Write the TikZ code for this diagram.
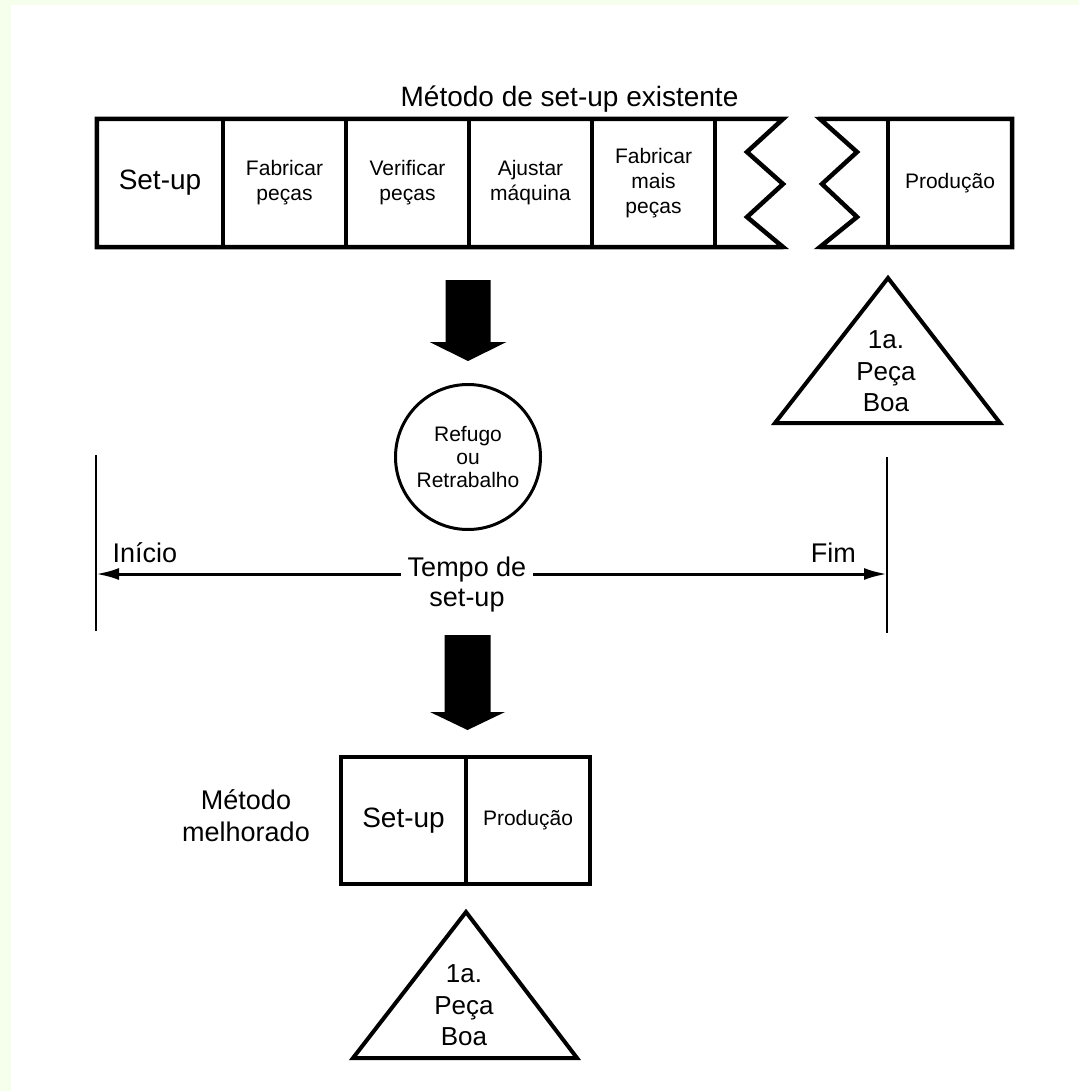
\documentclass[tikz,border=0pt]{standalone}
\usepackage{fontspec}
\setmainfont{Liberation Sans}
\usetikzlibrary{arrows.meta}
\definecolor{edgegreen}{RGB}{245,255,235}

\begin{document}
\begin{tikzpicture}[x=1pt,y=-1pt,
  frame/.style={line width=4.5pt, line join=miter},
  divider/.style={line width=3.5pt},
  cell/.style={minimum width=123pt, minimum height=128pt, inner sep=0pt,
    align=center, font=\fontsize{21}{25}\selectfont},
  bigtxt/.style={font=\fontsize{27}{32}\selectfont, inner sep=0pt},
  tri/.style={line width=4pt, line join=miter},
  tritxt/.style={align=center, inner sep=0pt, font=\fontsize{26}{31.5}\selectfont},
  blockarrow/.style={fill=black},
  timeline/.style={line width=3pt, -{Latex[length=23pt,width=12pt]}},
  marker/.style={line width=2.5pt}
]
\useasboundingbox (0,0) rectangle (1079,1091);
% page with a thin tinted margin on the left and top
\fill[edgegreen] (0,0) rectangle (1079,1091);
\fill[white] (11,5) rectangle (1079,1091);

% ---- existing set-up method ----
\node[bigtxt, font=\fontsize{28}{32}\selectfont, anchor=base] (title) at (569.5,107) {Método de set-up existente};

\node[cell, minimum width=126pt, font=\fontsize{28}{32}\selectfont] (s1) at (160,183) {Set-up};
\node[cell] (s2) at (284.5,183) {Fabricar\\peças};
\node[cell] (s3) at (407.5,183) {Verificar\\peças};
\node[cell] (s4) at (530.5,183) {Ajustar\\máquina};
\node[cell] (s5) at (653.5,183) {Fabricar\\mais\\peças};
\node[cell, minimum width=124pt] (prod) at (950,183) {Produção};

% left strip, broken off with a zigzag
\draw[frame] (s1.north west) -- (783,119) -- (747,152) -- (783,184) -- (747,217)
  -- (783,247) -- (s1.south west) -- cycle;
\foreach \c in {s1,s2,s3,s4,s5}
  \draw[divider] (\c.north east) -- (\c.south east);

% right strip, resumed after the break
\draw[frame] (prod.north east) -- (820,119) -- (857,152) -- (822,184) -- (857,217)
  -- (820,247) -- (prod.south east) -- cycle;
\draw[divider] (prod.north west) -- (prod.south west);

% first good part
\draw[tri] (888,278) -- (1000,423) -- (775,423) -- cycle;
\node[tritxt] (t1) at (886,371.5) {1a.\\Peça\\Boa};

% down arrow to scrap / rework
\fill[blockarrow] (445.5,280) -- (490.5,280) -- (490.5,342) -- (506.5,342)
  -- (468,361) -- (429.5,342) -- (445.5,342) -- cycle;

\node[circle, draw, line width=3pt, minimum size=145pt, inner sep=0pt, align=center,
  font=\fontsize{21}{23.5}\selectfont] (refugo) at (468,457) {Refugo\\ou\\Retrabalho};

% ---- set-up time span ----
\coordinate (iniTop) at (96,455);
\coordinate (iniBot) at (96,631);
\coordinate (fimTop) at (887,457);
\coordinate (fimBot) at (887,633);
\coordinate (ini) at (96,574);
\coordinate (fim) at (887,574);
\draw[marker] (iniTop) -- (iniBot);
\draw[marker] (fimTop) -- (fimBot);

\node[bigtxt, align=center, fill=white, inner xsep=7pt, inner ysep=2pt,
  font=\fontsize{27}{30}\selectfont] (tempo) at (467,585) {Tempo de\\set-up};
\draw[timeline] (tempo.west |- ini) -- (ini);
\draw[timeline] (tempo.east |- fim) -- (fim);

\node[bigtxt, anchor=base west] (inicio) at (112.5,562) {Início};
\node[bigtxt, anchor=base east] (fimtxt) at (856,562) {Fim};

% down arrow to improved method
\fill[blockarrow] (444.5,635) -- (490.5,635) -- (490.5,712) -- (505,712)
  -- (467.5,730) -- (430,712) -- (444.5,712) -- cycle;

% ---- improved method ----
\node[bigtxt, align=center] (melh) at (246,816) {Método\\melhorado};

\node[cell, minimum width=125pt, minimum height=127pt, font=\fontsize{28}{32}\selectfont] (b1) at (403.5,820.5) {Set-up};
\node[cell, minimum width=124pt, minimum height=127pt] (b2) at (528,820.5) {Produção};
\draw[frame] (b1.north west) rectangle (b2.south east);
\draw[divider] (b1.north east) -- (b1.south east);

\draw[tri] (466,912) -- (577,1058) -- (353,1058) -- cycle;
\node[tritxt] (t2) at (464,1005.5) {1a.\\Peça\\Boa};
\end{tikzpicture}
\end{document}
